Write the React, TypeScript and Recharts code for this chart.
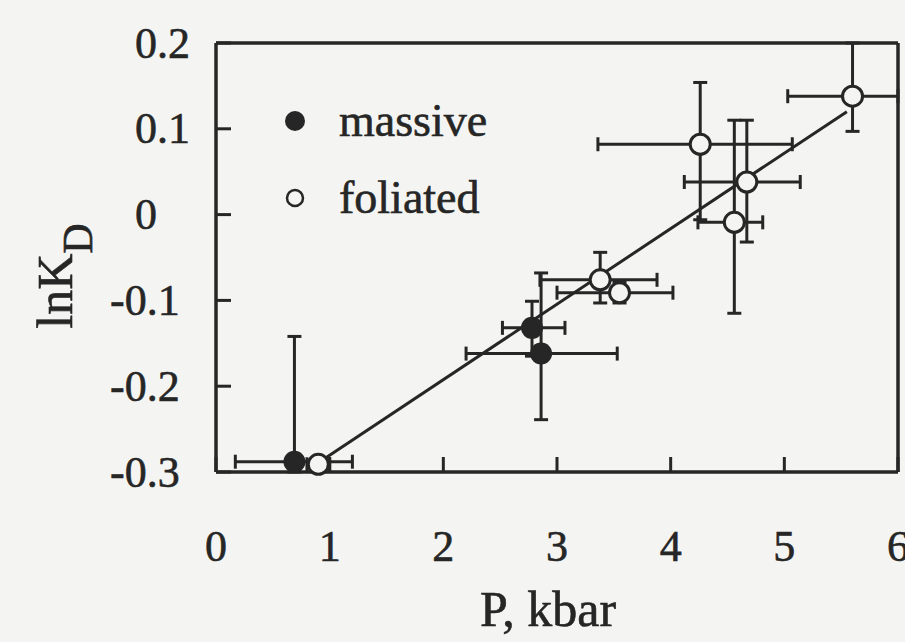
import { ScatterChart, Scatter, XAxis, YAxis, ErrorBar, ReferenceLine, Legend } from "recharts"

const INK = "#262626"
const PAPER = "#f4f5f2"
const FONT = "'Liberation Serif', 'Times New Roman', serif"

const X_TICKS = [0, 1, 2, 3, 4, 5, 6]
const Y_TICKS = [-0.3, -0.2, -0.1, 0, 0.1, 0.2]
const LEGEND_ORDER = ["massive", "foliated"]

// massive samples: P (kbar), lnKD, and [minus, plus] errors
const massiveP = [0.69, 2.78, 2.86]
const massiveLnKD = [-0.288, -0.132, -0.162]
const massivePErr = [[0.52, 0.51], [0.26, 0.29], [0.66, 0.67]]
const massiveLnKDErr = [[0.012, 0.146], [0.033, 0.031], [0.077, 0.094]]

// foliated samples
const foliatedP = [0.9, 3.38, 3.55, 4.26, 4.67, 4.56, 5.6]
const foliatedLnKD = [-0.291, -0.076, -0.091, 0.082, 0.038, -0.009, 0.138]
const foliatedPErr = [[0.1, 0.1], [0.53, 0.5], [0.55, 0.47], [0.9, 0.81], [0.55, 0.47], [0.32, 0.25], [0.57, 0.4]]
const foliatedLnKDErr = [[0, 0], [0.027, 0.032], [0.012, 0.012], [0.088, 0.072], [0.07, 0.072], [0.106, 0.119], [0.041, 0.062]]

// fitted line end points
const fitP = [0.97, 5.55]
const fitLnKD = [-0.283, 0.12]

const massive = massiveP.map((p, i) => ({ p, lnKD: massiveLnKD[i], pErr: massivePErr[i], lnKDErr: massiveLnKDErr[i] }))
const foliated = foliatedP.map((p, i) => ({ p, lnKD: foliatedLnKD[i], pErr: foliatedPErr[i], lnKDErr: foliatedLnKDErr[i] }))

const textStyle = { fontFamily: FONT, fill: INK, stroke: INK, strokeWidth: 0.6 }
const axisLine = { stroke: INK, strokeWidth: 3.5 }

const FilledDot = (props: any) => <circle cx={props.cx} cy={props.cy} r={11} fill={INK} />
const OpenDot = (props: any) => <circle cx={props.cx} cy={props.cy} r={10} fill={PAPER} stroke={INK} strokeWidth={3} />

const BottomTick = ({ x, y, payload }: any) => (
  <g>
    <line x1={x} y1={y} x2={x} y2={y - 15} stroke={INK} strokeWidth={3} />
    <text x={x} y={y + 74} textAnchor="middle" dominantBaseline="central" fontSize={44} {...textStyle}>
      {payload.value}
    </text>
  </g>
)

const TopTick = ({ x, y }: any) => <line x1={x} y1={y} x2={x} y2={y + 15} stroke={INK} strokeWidth={3} />

const LeftTick = ({ x, y, payload }: any) => (
  <g>
    <line x1={x} y1={y} x2={x + 15} y2={y} stroke={INK} strokeWidth={3} />
    <text x={x - 81 - (payload.value < 0 ? 25 : 0)} y={y} textAnchor="start" dominantBaseline="central" fontSize={44} {...textStyle}>
      {String(payload.value)}
    </text>
  </g>
)

const RightTick = ({ x, y }: any) => <line x1={x} y1={y} x2={x - 15} y2={y} stroke={INK} strokeWidth={3} />

const LegendContent = ({ payload }: any) => {
  const items = [...(payload || [])].sort((a: any, b: any) => LEGEND_ORDER.indexOf(a.value) - LEGEND_ORDER.indexOf(b.value))
  return (
    <div style={{ fontFamily: FONT, fontSize: 46, color: INK, WebkitTextStroke: "0.6px " + INK }}>
      {items.map((entry: any) => (
        <div key={entry.value} style={{ display: "flex", alignItems: "center", height: 77 }}>
          <svg width={24} height={24} style={{ marginRight: 32 }}>
            {entry.value === "massive" ? (
              <circle cx={12} cy={12} r={10} fill={INK} />
            ) : (
              <circle cx={12} cy={12} r={8} fill="none" stroke={INK} strokeWidth={2.5} />
            )}
          </svg>
          <span style={{ lineHeight: 1 }}>{entry.value}</span>
        </div>
      ))}
    </div>
  )
}

export default function App() {
  return (
    <div style={{ position: "absolute", left: 0, top: 0, width: 905, height: 642, background: PAPER }}>
      <ScatterChart width={905} height={642} margin={{ top: 42, right: 6, bottom: 70, left: 66 }}>
        <XAxis
          dataKey="p"
          type="number"
          domain={[0, 6]}
          ticks={X_TICKS}
          height={100}
          axisLine={axisLine}
          tickLine={false}
          tickSize={0}
          tickMargin={0}
          tick={<BottomTick />}
          interval={0}
          label={{
            content: () => (
              <text x={548} y={626} textAnchor="middle" fontSize={50} {...textStyle}>
                P, kbar
              </text>
            ),
          }}
        />
        <XAxis
          xAxisId="top"
          orientation="top"
          dataKey="p"
          type="number"
          domain={[0, 6]}
          ticks={X_TICKS}
          height={1}
          axisLine={axisLine}
          tickLine={false}
          tickSize={0}
          tickMargin={0}
          tick={<TopTick />}
          interval={0}
        />
        <YAxis
          dataKey="lnKD"
          type="number"
          domain={[-0.3, 0.2]}
          ticks={Y_TICKS}
          width={150}
          axisLine={axisLine}
          tickLine={false}
          tickSize={0}
          tickMargin={0}
          tick={<LeftTick />}
          interval={0}
          label={{
            content: () => (
              <text x={72} y={276} transform="rotate(-90, 72, 276)" textAnchor="middle" fontSize={50} {...textStyle}>
                lnK
                <tspan fontSize={42} dy={20}>D</tspan>
              </text>
            ),
          }}
        />
        <YAxis
          yAxisId="right"
          orientation="right"
          dataKey="lnKD"
          type="number"
          domain={[-0.3, 0.2]}
          ticks={Y_TICKS}
          width={1}
          axisLine={axisLine}
          tickLine={false}
          tickSize={0}
          tickMargin={0}
          tick={<RightTick />}
          interval={0}
        />
        <ReferenceLine
          segment={[
            { x: fitP[0], y: fitLnKD[0] },
            { x: fitP[1], y: fitLnKD[1] },
          ]}
          stroke={INK}
          strokeWidth={3}
        />
        <Scatter name="massive" data={massive} shape={<FilledDot />} fill={INK} isAnimationActive={false}>
          <ErrorBar dataKey="pErr" direction="x" width={7} stroke={INK} strokeWidth={3} />
          <ErrorBar dataKey="lnKDErr" direction="y" width={7} stroke={INK} strokeWidth={3} />
        </Scatter>
        <Scatter name="foliated" data={foliated} shape={<OpenDot />} fill={PAPER} isAnimationActive={false}>
          <ErrorBar dataKey="pErr" direction="x" width={7} stroke={INK} strokeWidth={3} />
          <ErrorBar dataKey="lnKDErr" direction="y" width={7} stroke={INK} strokeWidth={3} />
        </Scatter>
        <Legend
          layout="horizontal"
          verticalAlign="middle"
          align="center"
          content={<LegendContent />}
          wrapperStyle={{ left: 283, top: 82, width: 260 }}
        />
      </ScatterChart>
    </div>
  )
}
